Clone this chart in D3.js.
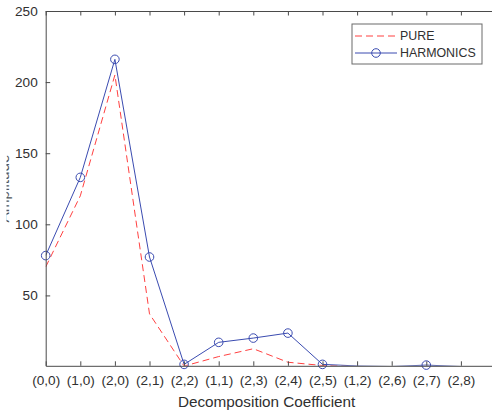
<!DOCTYPE html>
<html>
<head>
<meta charset="utf-8">
<script src="https://cdn.jsdelivr.net/npm/d3@7"></script>
<style>
  html, body { margin: 0; padding: 0; background: #ffffff; }
  svg { display: block; font-family: "Liberation Sans", Arial, Helvetica, sans-serif; }
</style>
</head>
<body>
<svg id="chart" width="492" height="414"></svg>
<script>
// Wavelet-packet decomposition coefficients (level, index)
const categories = ["(0,0)", "(1,0)", "(2,0)", "(2,1)", "(2,2)", "(1,1)", "(2,3)",
                    "(2,4)", "(2,5)", "(1,2)", "(2,6)", "(2,7)", "(2,8)"];
const pureValues      = [70, 120, 205, 37, 0.3, 7, 12.5, 3, 0.7, 0, 0, 0, 0];
const harmonicsValues = [78, 133, 216, 77, 1.5, 17, 20, 23.5, 1.5, 0.4, 0, 1, 0];
const yTicks = [50, 100, 150, 200, 250];
const seriesNames = ["PURE", "HARMONICS"];

const svg = d3.select("#chart");
const W = 492, H = 414;
const mLeft = 45.7, mTop = 11, mBottom = 365.8;
const xMaxIdx = 13;
const mRight = mLeft + 34.6 * xMaxIdx;   // right edge of the axes box
const yMin = 0.5, yMax = 250;

const x = d3.scaleLinear().domain([0, xMaxIdx]).range([mLeft, mRight]);
const y = d3.scaleLinear().domain([yMin, yMax]).range([mBottom, mTop]);

const axisColor = "#4a4a4a";
const textColor = "#303030";
const blue = "#3a4bb0";
const red = "#ff4040";

const defs = svg.append("defs");

// plotting area clip
defs.append("clipPath").attr("id", "plotClip")
  .append("rect").attr("x", mLeft).attr("y", mTop)
  .attr("width", mRight - mLeft).attr("height", mBottom - mTop);

const plot = svg.append("g").attr("clip-path", "url(#plotClip)");

const line = d3.line().x((d, i) => x(i)).y(d => y(d));

// PURE: dashed red line
plot.append("path")
  .datum(pureValues)
  .attr("d", line)
  .attr("fill", "none")
  .attr("stroke", red)
  .attr("stroke-width", 1)
  .attr("stroke-dasharray", "7,4");

// HARMONICS: solid blue line with circle markers
plot.append("path")
  .datum(harmonicsValues)
  .attr("d", line)
  .attr("fill", "none")
  .attr("stroke", blue)
  .attr("stroke-width", 1);

svg.append("g").selectAll("circle")
  .data(harmonicsValues.map((v, i) => ({ v, i })).filter(d => d.v >= yMin))
  .join("circle")
  .attr("cx", d => x(d.i))
  .attr("cy", d => y(d.v))
  .attr("r", 4.3)
  .attr("fill", "none")
  .attr("stroke", blue)
  .attr("stroke-width", 1);

// axes
const tickLen = 4.5;
const xAxisBottom = d3.axisBottom(x)
  .tickValues(d3.range(categories.length))
  .tickFormat(i => categories[i])
  .tickSizeInner(-tickLen).tickSizeOuter(0).tickPadding(10);
const gxb = svg.append("g").attr("transform", `translate(0,${mBottom})`).call(xAxisBottom);

const xAxisTop = d3.axisTop(x)
  .tickValues(d3.range(categories.length))
  .tickFormat("")
  .tickSizeInner(-tickLen).tickSizeOuter(0);
const gxt = svg.append("g").attr("transform", `translate(0,${mTop})`).call(xAxisTop);

const yAxis = d3.axisLeft(y)
  .tickValues(yTicks)
  .tickSizeInner(-tickLen).tickSizeOuter(0).tickPadding(8);
const gy = svg.append("g").attr("transform", `translate(${mLeft},0)`).call(yAxis);

[gxb, gxt, gy].forEach(g => {
  g.select(".domain").attr("stroke", axisColor).attr("stroke-width", 1);
  g.selectAll(".tick line").attr("stroke", axisColor).attr("stroke-width", 1);
  g.selectAll(".tick text").attr("fill", textColor)
    .attr("font-size", 13.6).attr("font-family", "Liberation Sans, Arial, sans-serif");
});

// x label
svg.append("text")
  .attr("x", (mLeft + mRight) / 2 - 4)
  .attr("y", 407)
  .attr("text-anchor", "middle")
  .attr("fill", textColor)
  .attr("font-size", 15.3)
  .text("Decomposition Coefficient");

// y label, mostly beyond the left edge of the figure
defs.append("clipPath").attr("id", "ylabClip")
  .append("rect").attr("x", 6.5).attr("y", 0).attr("width", 10).attr("height", H);
svg.append("g").attr("clip-path", "url(#ylabClip)")
  .append("text")
  .attr("transform", `translate(9,${(mTop + mBottom) / 2}) rotate(-90)`)
  .attr("text-anchor", "middle")
  .attr("fill", "#555555")
  .attr("font-size", 15.3)
  .text("Amplitude");

// legend
const lg = svg.append("g").attr("transform", "translate(352,24)");
lg.append("rect").attr("x", 0).attr("y", 0).attr("width", 130).attr("height", 40)
  .attr("fill", "#ffffff").attr("stroke", "#6a6a6a").attr("stroke-width", 1);
const rows = [
  { name: seriesNames[0], color: red, dash: "7,4", marker: false, yy: 12 },
  { name: seriesNames[1], color: blue, dash: null, marker: true, yy: 29 }
];
rows.forEach(r => {
  lg.append("line").attr("x1", 3).attr("x2", 45).attr("y1", r.yy).attr("y2", r.yy)
    .attr("stroke", r.color).attr("stroke-width", 1)
    .attr("stroke-dasharray", r.dash);
  if (r.marker) {
    lg.append("circle").attr("cx", 24).attr("cy", r.yy).attr("r", 4.3)
      .attr("fill", "none").attr("stroke", r.color);
  }
  lg.append("text").attr("x", 48).attr("y", r.yy).attr("dy", "0.36em")
    .attr("fill", textColor).attr("font-size", 12.4).text(r.name);
});
</script>
</body>
</html>
